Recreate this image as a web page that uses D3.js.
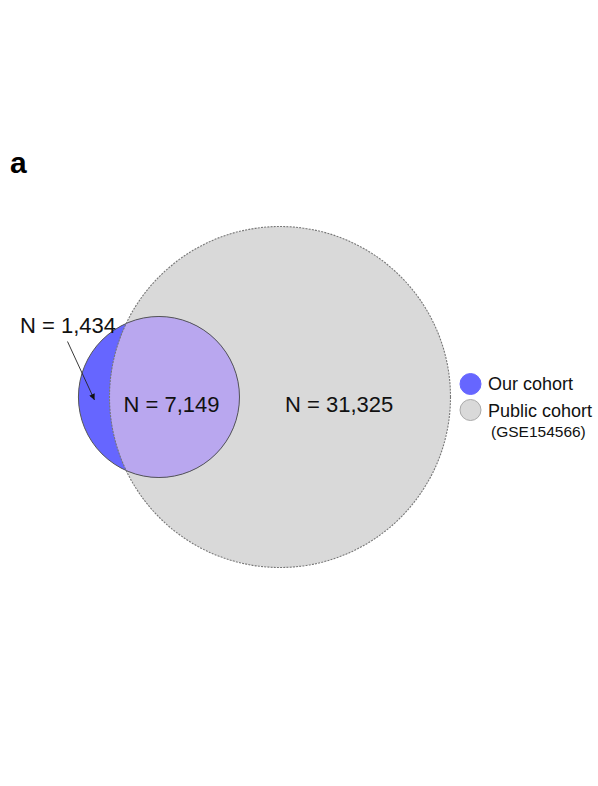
<!DOCTYPE html>
<html>
<head>
<meta charset="utf-8">
<script src="https://cdn.jsdelivr.net/npm/d3@7"></script>
<style>
  html, body { margin: 0; padding: 0; background: #fff; }
  svg { display: block; font-family: "Liberation Sans", Arial, sans-serif; }
</style>
</head>
<body>
<svg id="chart" width="598" height="786"></svg>
<script>
// Cohort sizes (number of cells / features per region of the Venn diagram)
const sets = ["Our cohort", "Public cohort"];
const onlyOurs = 1434;
const shared = 7149;
const onlyPublic = 31325;
const regionLabels = ["N = 1,434", "N = 7,149", "N = 31,325"];
const legendLabels = ["Our cohort", "Public cohort"];
const legendSub = "(GSE154566)";
const colors = { ours: "#6666ff", shared: "#b9a7ef", pub: "#d9d9d9" };

const totalOurs = onlyOurs + shared;
const totalPublic = shared + onlyPublic;

const svg = d3.select("#chart");

// Area-proportional radii
const rScale = d3.scaleSqrt().domain([0, totalPublic]).range([0, 170.5]);
const r1 = rScale(totalOurs);
const r2 = rScale(totalPublic);

// Lens (intersection) area of two circles at centre distance d
function lensArea(d, a, b) {
  if (d >= a + b) return 0;
  if (d <= Math.abs(a - b)) return Math.PI * Math.min(a, b) ** 2;
  const t1 = a * a * Math.acos((d * d + a * a - b * b) / (2 * d * a));
  const t2 = b * b * Math.acos((d * d + b * b - a * a) / (2 * d * b));
  const t3 = 0.5 * Math.sqrt((-d + a + b) * (d + a - b) * (d - a + b) * (d + a + b));
  return t1 + t2 - t3;
}

// Find the centre distance giving the shared area by bisection
const targetArea = Math.PI * r2 * r2 * shared / totalPublic;
let lo = Math.abs(r2 - r1), hi = r1 + r2;
for (let i = 0; i < 60; i++) {
  const mid = (lo + hi) / 2;
  if (lensArea(mid, r1, r2) > targetArea) lo = mid; else hi = mid;
}
const dist = (lo + hi) / 2;

const cyAll = 397;
const bigC = { x: 280, y: cyAll };
const smallC = { x: bigC.x - dist, y: cyAll };

const defs = svg.append("defs");
defs.append("clipPath").attr("id", "clipPublic")
  .append("circle").attr("cx", bigC.x).attr("cy", bigC.y).attr("r", r2);
defs.append("marker")
  .attr("id", "arrowHead")
  .attr("viewBox", "0 0 10 10")
  .attr("refX", 10).attr("refY", 5)
  .attr("markerWidth", 8).attr("markerHeight", 6)
  .attr("markerUnits", "userSpaceOnUse")
  .attr("orient", "auto")
  .append("path").attr("d", "M0,0 L10,5 L0,10 z").attr("fill", "#111");

// Public cohort circle
svg.append("circle")
  .attr("cx", bigC.x).attr("cy", bigC.y).attr("r", r2)
  .attr("fill", colors.pub);

// Our cohort circle
svg.append("circle")
  .attr("cx", smallC.x).attr("cy", smallC.y).attr("r", r1)
  .attr("fill", colors.ours);

// Shared region
svg.append("circle")
  .attr("cx", smallC.x).attr("cy", smallC.y).attr("r", r1)
  .attr("clip-path", "url(#clipPublic)")
  .attr("fill", colors.shared);

// Outlines
svg.append("circle")
  .attr("cx", smallC.x).attr("cy", smallC.y).attr("r", r1)
  .attr("fill", "none").attr("stroke", "#555").attr("stroke-width", 1);
svg.append("circle")
  .attr("cx", bigC.x).attr("cy", bigC.y).attr("r", r2)
  .attr("fill", "none").attr("stroke", "#777")
  .attr("stroke-width", 1.1).attr("stroke-dasharray", "2,1.2");

// Region labels
svg.append("text").attr("x", 20).attr("y", 333)
  .attr("font-size", 22).attr("fill", "#111").text(regionLabels[0]);
svg.append("text").attr("x", 123.5).attr("y", 412)
  .attr("font-size", 22).attr("fill", "#111").text(regionLabels[1]);
svg.append("text").attr("x", 285).attr("y", 412)
  .attr("font-size", 22).attr("fill", "#111").text(regionLabels[2]);

// Pointer to the "Our cohort only" crescent
svg.append("line")
  .attr("x1", 67.5).attr("y1", 341.5).attr("x2", 94.5).attr("y2", 400)
  .attr("stroke", "#222").attr("stroke-width", 0.9)
  .attr("marker-end", "url(#arrowHead)");

// Panel letter
svg.append("text").attr("x", 10).attr("y", 173)
  .attr("font-size", 30).attr("font-weight", "bold").attr("fill", "#000").text("a");

// Legend
const legend = svg.append("g");
const legendY = [384, 410];
const legendFill = [colors.ours, colors.pub];
const legendStroke = ["#6666ff", "#aaa"];
legendLabels.forEach((lab, i) => {
  legend.append("circle").attr("cx", 470.5).attr("cy", legendY[i]).attr("r", 10.5)
    .attr("fill", legendFill[i]).attr("stroke", legendStroke[i]).attr("stroke-width", 1);
  legend.append("text").attr("x", 488).attr("y", legendY[i] + 5.5 + (i ? 1 : 0))
    .attr("font-size", 18).attr("fill", "#111").text(lab);
});
legend.append("text").attr("x", 491).attr("y", 437)
  .attr("font-size", 15.5).attr("fill", "#111").text(legendSub);
</script>
</body>
</html>
